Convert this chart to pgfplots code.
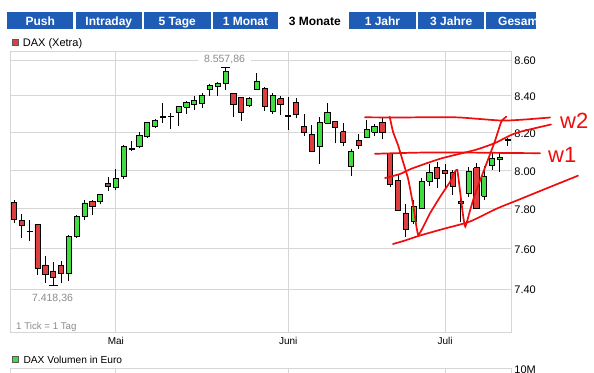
\documentclass[border=0pt]{standalone}
\usepackage{pgfplots}
\pgfplotsset{compat=1.18}
\usepackage{pgfplotstable}
\usepackage{fontspec}
\setmainfont{Liberation Sans}

\definecolor{tabblue}{RGB}{30,92,182}
\definecolor{cgreen}{RGB}{64,220,64}
\definecolor{cred}{RGB}{222,62,62}
\definecolor{cbrown}{RGB}{165,85,85}
\definecolor{gridgray}{RGB}{214,214,214}
\definecolor{lblgray}{RGB}{140,140,140}
\definecolor{annred}{RGB}{240,12,12}
\tikzset{tabtext/.style={white, font=\bfseries\fontsize{12}{14}\selectfont, anchor=base, inner sep=0pt}}

% i = trading day index, O H L C in thousands of points, t: 0 red, 1 green, 2 brown
\pgfplotstableread{
i O H L C t
0 7.834 7.843 7.729 7.746 0
1 7.741 7.775 7.654 7.714 0
2 7.686 7.741 7.637 7.684 0
3 7.721 7.726 7.470 7.503 0
4 7.518 7.560 7.432 7.473 0
5 7.488 7.533 7.41836 7.458 0
6 7.515 7.537 7.432 7.478 0
7 7.478 7.666 7.437 7.661 1
8 7.659 7.771 7.655 7.761 1
9 7.763 7.843 7.743 7.831 1
10 7.840 7.843 7.768 7.814 0
11 7.836 7.874 7.824 7.874 1
12 7.931 7.967 7.891 7.914 2
13 7.909 8.007 7.897 7.960 1
14 7.969 8.132 7.957 8.125 1
15 8.114 8.152 8.102 8.112 0
16 8.123 8.205 8.116 8.182 1
17 8.177 8.255 8.173 8.255 1
18 8.233 8.273 8.227 8.264 1
19 8.286 8.358 8.251 8.283 0
20 8.289 8.304 8.218 8.286 0
21 8.309 8.345 8.236 8.340 1
22 8.336 8.369 8.300 8.364 1
23 8.351 8.400 8.322 8.376 1
24 8.358 8.413 8.331 8.402 1
25 8.436 8.464 8.400 8.455 1
26 8.451 8.478 8.400 8.471 1
27 8.467 8.55786 8.433 8.533 1
28 8.413 8.413 8.282 8.351 0
29 8.391 8.391 8.264 8.309 0
30 8.345 8.395 8.340 8.385 1
31 8.436 8.527 8.431 8.482 1
32 8.440 8.449 8.318 8.342 0
33 8.315 8.418 8.300 8.400 1
34 8.385 8.400 8.296 8.355 0
35 8.293 8.396 8.213 8.289 0
36 8.364 8.387 8.276 8.300 0
37 8.233 8.300 8.182 8.200 0
38 8.191 8.240 8.095 8.098 0
39 8.125 8.282 8.034 8.255 1
40 8.249 8.358 8.245 8.309 1
41 8.260 8.260 8.141 8.227 0
42 8.205 8.249 8.125 8.146 0
43 8.021 8.114 7.969 8.098 1
44 8.155 8.191 8.114 8.132 0
45 8.173 8.267 8.168 8.215 1
46 8.200 8.245 8.179 8.233 1
47 8.255 8.282 8.164 8.200 0
48 8.089 8.089 7.912 7.929 0
49 7.947 7.974 7.792 7.792 0
50 7.780 7.826 7.657 7.696 0
51 7.738 7.845 7.724 7.810 1
52 7.802 7.960 7.802 7.940 1
53 7.943 8.030 7.917 7.991 1
54 8.016 8.045 7.909 7.960 0
55 8.000 8.030 7.909 7.986 0
56 7.991 8.003 7.871 7.914 0
57 7.840 7.848 7.731 7.829 0
58 7.878 8.016 7.860 7.995 1
59 8.012 8.038 7.802 7.805 0
60 7.866 8.021 7.845 7.969 1
61 8.024 8.088 8.003 8.061 1
62 8.055 8.088 7.991 8.066 1
63 8.165 8.173 8.128 8.160 0
}\candles

\begin{document}
\begin{tikzpicture}
\useasboundingbox (0pt,0pt) rectangle (594pt,372pt);
\clip (0pt,0pt) rectangle (594pt,372pt);
\fill[white] (0pt,0pt) rectangle (594pt,372pt);

% ---------------- price panel ----------------
\begin{axis}[
  at={(10pt,320.3pt)}, anchor=north west,
  scale only axis, width=501.7pt, height=280.6pt,
  xmin=-0.51, xmax=63.51,
  ymode=log, ymin=7.193, ymax=8.647,
  xtick={13,35,55}, xticklabels={Mai,Juni,Juli},
  ytick={7.4,7.6,7.8,8.0,8.2,8.4,8.6},
  yticklabels={7.40,7.60,7.80,8.00,8.20,8.40,8.60},
  yticklabel pos=right,
  xmajorgrids, ymajorgrids, yminorgrids=false, yminorticks=false,
  grid style={gridgray, line width=0.9pt},
  axis line style={gridgray, line width=0.9pt},
  major tick length=0pt, tick style={draw=none},
  xticklabel style={font=\fontsize{10}{12}\selectfont, anchor=base, inner sep=0pt, yshift=-12pt},
  yticklabel style={font=\fontsize{11}{13}\selectfont, anchor=base west, inner sep=0pt, xshift=2.5pt, yshift=-5pt},
]
\pgfplotsforeachungrouped \r in {0,...,63}{%
  \pgfplotstablegetelem{\r}{i}\of\candles \let\ci\pgfplotsretval
  \pgfplotstablegetelem{\r}{O}\of\candles \let\co\pgfplotsretval
  \pgfplotstablegetelem{\r}{H}\of\candles \let\ch\pgfplotsretval
  \pgfplotstablegetelem{\r}{L}\of\candles \let\cl\pgfplotsretval
  \pgfplotstablegetelem{\r}{C}\of\candles \let\cc\pgfplotsretval
  \pgfplotstablegetelem{\r}{t}\of\candles \let\ct\pgfplotsretval
  \ifcase\ct\relax \def\cfill{cred}\or \def\cfill{cgreen}\or \def\cfill{cbrown}\fi
  \pgfmathsetmacro\xl{\ci-0.33}%
  \pgfmathsetmacro\xr{\ci+0.33}%
  \edef\next{%
    \noexpand\addplot[black, line width=0.9pt, forget plot] coordinates {(\ci,\cl) (\ci,\ch)};
    \noexpand\addplot[draw=black, fill=\cfill, line width=0.8pt, line join=miter, forget plot]
      coordinates {(\xl,\co) (\xr,\co) (\xr,\cc) (\xl,\cc) (\xl,\co)};
  }\next
}
% caps at the period high and low
\addplot[only marks, mark=-, mark size=4.6pt, black, mark options={line width=0.9pt}]
  coordinates {(27,8.55786) (5,7.41836)};
\end{axis}

% ---------------- volume panel (top edge only visible) ----------------
\begin{axis}[
  at={(10pt,3.7pt)}, anchor=north west,
  scale only axis, width=501.7pt, height=60pt,
  xmin=-0.51, xmax=63.51, ymin=0, ymax=10,
  xtick={13,35,55}, xticklabels={},
  ytick={10}, yticklabels={10M},
  yticklabel pos=right,
  xmajorgrids, ymajorgrids,
  grid style={gridgray, line width=0.9pt},
  axis line style={gridgray, line width=0.9pt},
  major tick length=0pt, tick style={draw=none},
  yticklabel style={font=\fontsize{11}{13}\selectfont, anchor=base west, inner sep=0pt, xshift=2.5pt, yshift=-5pt},
]
\end{axis}

% ---------------- overlay in pixel units ----------------
\begin{axis}[
  at={(0pt,0pt)}, anchor=south west,
  scale only axis, width=594pt, height=372pt,
  xmin=0, xmax=594, ymin=0, ymax=372, y dir=reverse,
  hide axis, clip=false,
]
% tabs
\fill[tabblue] (axis cs:7.3,12.3) rectangle (axis cs:73.3,29.3);
\fill[tabblue] (axis cs:75.8,12.3) rectangle (axis cs:141.8,29.3);
\fill[tabblue] (axis cs:144.2,12.3) rectangle (axis cs:210.5,29.3);
\fill[tabblue] (axis cs:212.6,12.3) rectangle (axis cs:278.4,29.3);
\fill[tabblue] (axis cs:349.2,12.3) rectangle (axis cs:415.8,29.3);
\fill[tabblue] (axis cs:418.2,12.3) rectangle (axis cs:484.2,29.3);
\fill[tabblue] (axis cs:486.3,12.3) rectangle (axis cs:536,29.3);
\node[tabtext] at (axis cs:40.3,25.6) {Push};
\node[tabtext] at (axis cs:108.8,25.6) {Intraday};
\node[tabtext] at (axis cs:177.3,25.6) {5 Tage};
\node[tabtext] at (axis cs:245.5,25.6) {1 Monat};
\node[tabtext, text=black] at (axis cs:314.8,25.6) {3 Monate};
\node[tabtext] at (axis cs:382.5,25.6) {1 Jahr};
\node[tabtext] at (axis cs:451.2,25.6) {3 Jahre};
\node[tabtext, anchor=base west] at (axis cs:498,25.6) {Gesam};

% legends
\filldraw[fill=cred, draw=black!65, line width=0.6pt] (axis cs:11.9,39.2) rectangle (axis cs:18.2,45.6);
\node[anchor=base west, inner sep=0pt, font=\fontsize{11}{13}\selectfont] at (axis cs:22.7,46.7) {DAX (Xetra)};
\filldraw[fill=cgreen, draw=black!65, line width=0.6pt] (axis cs:11.9,355.9) rectangle (axis cs:18.2,362.3);
\node[anchor=base west, inner sep=0pt, font=\fontsize{10.2}{12}\selectfont] at (axis cs:23.3,363.3) {DAX Volumen in Euro};

% value labels
\node[anchor=base, fill=white, text=lblgray, inner xsep=6pt, inner ysep=1pt, font=\fontsize{10.5}{12}\selectfont] at (axis cs:224.5,62.5) {8.557,86};
\node[anchor=base, text=lblgray, inner sep=0pt, font=\fontsize{10.5}{12}\selectfont] at (axis cs:52.5,301.6) {7.418,36};
\node[anchor=base west, text=lblgray, inner sep=0pt, font=\fontsize{9.7}{12}\selectfont] at (axis cs:16,329) {1 Tick = 1 Tag};

% hand-drawn red annotations
\addplot[annred, line width=1.7pt, smooth, tension=0.4, line cap=round] coordinates {
  (365,117.3) (400,117.5) (430,117.2) (458,117.4) (480,119) (503,120.6) (525,119.5) (550,117.5)};
\addplot[annred, line width=1.7pt, smooth, tension=0.4, line cap=round] coordinates {
  (375,153.8) (420,152.6) (470,152.6) (510,153) (540,153.2)};
\addplot[annred, line width=1.7pt, smooth, tension=0.4, line cap=round] coordinates {
  (385,178) (400,174) (412,168.5) (441,158.5) (475,150) (495,143) (516,133) (551,124.5)};
\addplot[annred, line width=1.7pt, smooth, tension=0.4, line cap=round] coordinates {
  (393,244) (405,240.5) (420,235.5) (443,229) (470,221.5) (497,208.5) (518,200) (545,189) (578,175.7)};
\addplot[annred, line width=1.7pt, smooth, tension=0.3, line cap=round] coordinates {
  (389.7,116.7) (393,131.7) (398,145) (403,161.7) (408,178.3) (411.3,195) (414,210) (416,224) (418.3,235)
  (423.3,226.7) (430,213.3) (441.3,195) (450,182) (454.7,172) (457.3,170)
  (459.7,188.3) (463,215) (465.3,226.7)
  (469.7,211.7) (474.7,195) (484.7,168.3) (494.7,141.7) (501.3,121.7) (506.3,116.7)};
\node[anchor=base west, inner sep=0pt, text=annred, font=\fontsize{22}{24}\selectfont] at (axis cs:560,128) {w2};
\node[anchor=base west, inner sep=0pt, text=annred, font=\fontsize{22}{24}\selectfont] at (axis cs:548,162) {w1};
\end{axis}
\end{tikzpicture}
\end{document}
